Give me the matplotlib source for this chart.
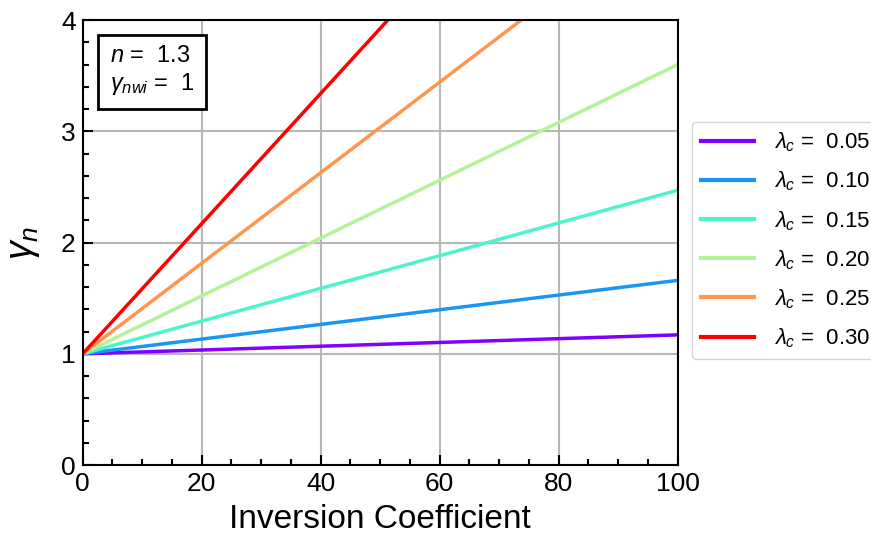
import numpy as np
import matplotlib
matplotlib.use("Agg")
import matplotlib.pyplot as plt
from matplotlib.ticker import MultipleLocator

plt.rcParams["font.family"] = ["Liberation Sans", "DejaVu Sans"]
plt.rcParams["mathtext.fontset"] = "custom"
plt.rcParams["mathtext.it"] = "Liberation Sans:italic"
plt.rcParams["mathtext.rm"] = "Liberation Sans"

# inversion coefficient range and gamma_n at each end
ic = [0, 100]
lambda_c = ["0.05", "0.10", "0.15", "0.20", "0.25", "0.30"]
gamma_start = [1.0, 1.0, 1.0, 1.0, 1.0, 1.0]
gamma_end = [1.17, 1.66, 2.47, 3.60, 5.07, 6.85]

fig = plt.figure(figsize=(8.71, 5.42), dpi=100)
ax = fig.add_axes([0.095, 0.142, 0.683, 0.821])

colors = plt.cm.rainbow(np.linspace(0, 1, len(lambda_c)))
for lam, g0, g1, c in zip(lambda_c, gamma_start, gamma_end, colors):
    ax.plot(ic, [g0, g1], color=c, lw=2.5, label=r"$\lambda_c$ = " + " " + lam)

ax.set_xlim(0, 100)
ax.set_ylim(0, 4)
ax.xaxis.set_major_locator(MultipleLocator(20))
ax.xaxis.set_minor_locator(MultipleLocator(5))
ax.yaxis.set_major_locator(MultipleLocator(1))
ax.yaxis.set_minor_locator(MultipleLocator(0.2))
ax.tick_params(which="both", direction="in", top=False, right=False, labelsize=19, width=1.5)
ax.tick_params(which="major", length=7, pad=5)
ax.tick_params(which="minor", length=4)
ax.grid(True, which="major", color="#b8b8b8", lw=1.5)
ax.set_axisbelow(True)
for s in ax.spines.values():
    s.set_linewidth(1.5)

ax.set_xlabel("Inversion Coefficient", fontsize=24, labelpad=6)
ax.set_ylabel(r"$\gamma_n$", fontsize=27, labelpad=14)

ax.text(0.045, 0.945, "$n$ = " + " 1.3\n" + r"$\gamma_{nwi}$ = " + " 1",
        transform=ax.transAxes, fontsize=17, va="top", ha="left", linespacing=1.25,
        bbox=dict(boxstyle="square,pad=0.5", fc="white", ec="black", lw=2))

ax.legend(loc="center left", bbox_to_anchor=(1.005, 0.505), fontsize=16,
          handlelength=2.4, labelspacing=0.7, handletextpad=0.9,
          frameon=True, edgecolor="#cccccc")
for line in ax.get_legend().get_lines():
    line.set_linewidth(3)

fig.savefig("out.png", dpi=100)
